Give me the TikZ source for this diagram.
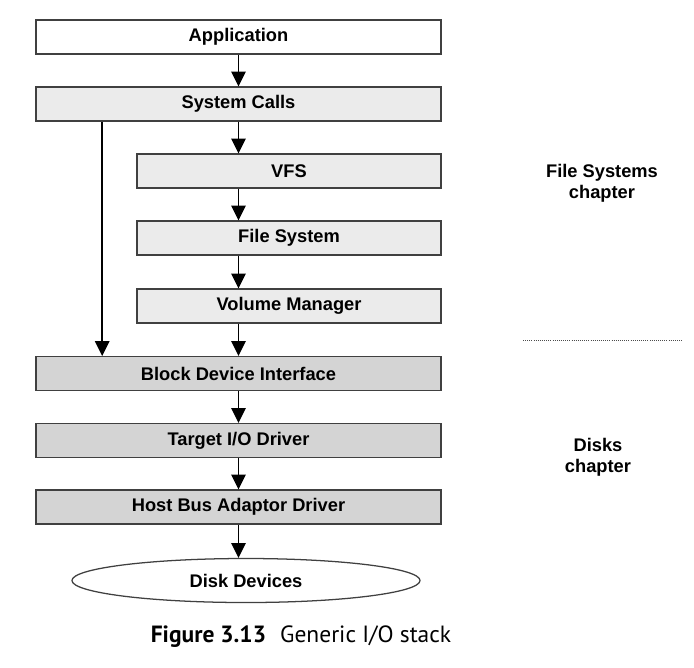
\documentclass[tikz,border=0pt]{standalone}
\usepackage{fontspec}
\setmainfont{Liberation Sans}
\newfontfamily\capfont{PT Sans}
\usepackage{xcolor}
\usetikzlibrary{shapes.geometric,arrows.meta}
\definecolor{upgray}{HTML}{EBEBEB}
\definecolor{lowgray}{HTML}{D4D4D4}
\definecolor{edgegray}{HTML}{404040}
\tikzset{
layerwide/.style={rectangle, draw=edgegray, line width=1.1pt, inner sep=0pt, minimum width=10.125cm, minimum height=0.84cm, font=\fontsize{13}{15}\selectfont\bfseries},
layernarrow/.style={layerwide, minimum width=7.6cm},
diskellipse/.style={ellipse, draw=edgegray, fill=white, line width=0.9pt, inner sep=0pt, minimum width=8.7cm, minimum height=1.1cm, font=\fontsize{13}{15}\selectfont\bfseries},
chapterlabel/.style={align=center, font=\fontsize{13}{15}\selectfont\bfseries},
flowarrow/.style={line width=1.1pt, black, -{Triangle[length=3.7mm,width=3.6mm]}},
}
\begin{document}
\begin{tikzpicture}[x=0.025cm,y=-0.025cm]
        \useasboundingbox (0,0) rectangle (694,667);
        \node[layerwide, fill=white] at (238.5,37) (app) {Application};
        \node[layerwide, fill=upgray] at (238.5,104) (sys) {System Calls};
        \node[layernarrow, fill=upgray] at (289,171) (vfs) {VFS};
        \node[layernarrow, fill=upgray] at (289,238) (fs) {File System};
        \node[layernarrow, fill=upgray] at (289,306) (vm) {Volume Manager};
        \node[layerwide, fill=lowgray] at (238.5,373.5) (bdi) {Block Device Interface};
        \node[layerwide, fill=lowgray] at (238.5,440.5) (tgt) {Target I/O Driver};
        \node[layerwide, fill=lowgray] at (238.5,507) (hba) {Host Bus Adaptor Driver};
        \node[diskellipse] at (246,580.5) (disk) {Disk Devices};
        \node[chapterlabel] at (602,183) (fschap) {File Systems\\chapter};
        \node[chapterlabel] at (598,457) (diskchap) {Disks\\chapter};
        \node[font=\capfont\fontsize{16.7}{20}\selectfont] at (301,637) (cap) {\textbf{Figure 3.13}\hspace{0.6em}Generic I/O stack};
        \coordinate (sepleft) at (523,340);
        \coordinate (sepright) at (682,340);
        \draw[flowarrow] (app.south) -- (sys.north);
        \draw[flowarrow] (sys.south) -- (sys.south |- vfs.north);
        \draw[flowarrow] (sys.south |- vfs.south) -- (sys.south |- fs.north);
        \draw[flowarrow] (sys.south |- fs.south) -- (sys.south |- vm.north);
        \draw[flowarrow] (sys.south |- vm.south) -- (bdi.north);
        \draw[flowarrow] ([xshift=1.675cm]sys.south west) -- ([xshift=1.675cm]bdi.north west);
        \draw[flowarrow] (bdi.south) -- (tgt.north);
        \draw[flowarrow] (tgt.south) -- (hba.north);
        \draw[flowarrow] (hba.south) -- (hba.south |- disk.north);
        \draw[black!70, line width=0.7pt, dash pattern=on 0.6pt off 0.9pt] (sepleft) -- (sepright);
\end{tikzpicture}
\end{document}
